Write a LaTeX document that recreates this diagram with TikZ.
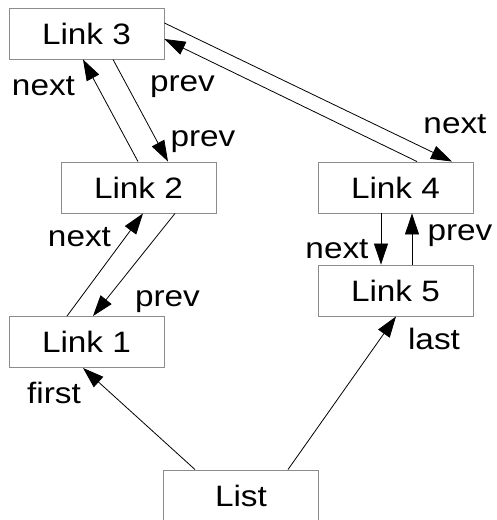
\documentclass[tikz,border=0pt]{standalone}
\usepackage{fontspec}
\setmainfont{Liberation Sans}[FakeStretch=1.13]
\usetikzlibrary{calc,arrows.meta}
\begin{document}
\begin{tikzpicture}[x=1pt,y=-1pt,
  box/.style={draw=black!45,line width=0.9pt,minimum width=155pt,minimum height=51pt,inner sep=0pt,font=\fontsize{29.5}{34}\selectfont},
  lbl/.style={inner sep=0pt,anchor=base,font=\fontsize{29.5}{34}\selectfont},
  link/.style={draw=black,line width=0.8pt,-{Triangle[length=21pt,width=14pt]}}]
\useasboundingbox (0,0) rectangle (496,520);
\node[box] (L3) at (86.5,33.5) {Link 3};
\node[box] (L2) at (138.5,187.5) {Link 2};
\node[box] (L4) at (395.5,187.5) {Link 4};
\node[box] (L5) at (395.5,290.5) {Link 5};
\node[box] (L1) at (86.5,342) {Link 1};
\node[box] (List) at (241,495.5) {List};
% connectors
\draw[link] ($(L2.north)+(-0.5,0)$) -- ($(L3.south)+(-3.5,0)$);
\draw[link] ($(L3.south)+(26.5,0)$) -- ($(L2.north)+(29.5,0)$);
\draw[link] ($(L3.east)+(0,-10.5)$) -- ($(L4.north)+(56.5,0)$);
\draw[link] ($(L4.north)+(21.5,0)$) -- ($(L3.east)+(0,5.5)$);
\draw[link] ($(L4.south)+(-14.5,0)$) -- ($(L5.north)+(-14.5,0)$);
\draw[link] ($(L5.north)+(16.5,0)$) -- ($(L4.south)+(16.5,0)$);
\draw[link] ($(L1.north)+(-19.5,0)$) -- ($(L2.south)+(4.5,0)$);
\draw[link] ($(L2.south)+(36.5,0)$) -- ($(L1.north)+(6.5,0)$);
\draw[link] ($(List.north)+(-46,0)$) -- ($(L1.south)+(-3.5,0)$);
\draw[link] ($(List.north)+(47,0)$) -- ($(L5.south)+(0.5,0)$);
% labels
\node[lbl] (t1) at (43.5,95) {next};
\node[lbl] (t2) at (182.5,91.5) {prev};
\node[lbl] (t3) at (203,146.7) {prev};
\node[lbl] (t4) at (455,133) {next};
\node[lbl] (t5) at (460,240) {prev};
\node[lbl] (t6) at (337,258) {next};
\node[lbl] (t7) at (79.5,246) {next};
\node[lbl] (t8) at (167.5,306.7) {prev};
\node[lbl] (t9) at (54,403) {first};
\node[lbl] (t10) at (434,349) {last};
\end{tikzpicture}
\end{document}
